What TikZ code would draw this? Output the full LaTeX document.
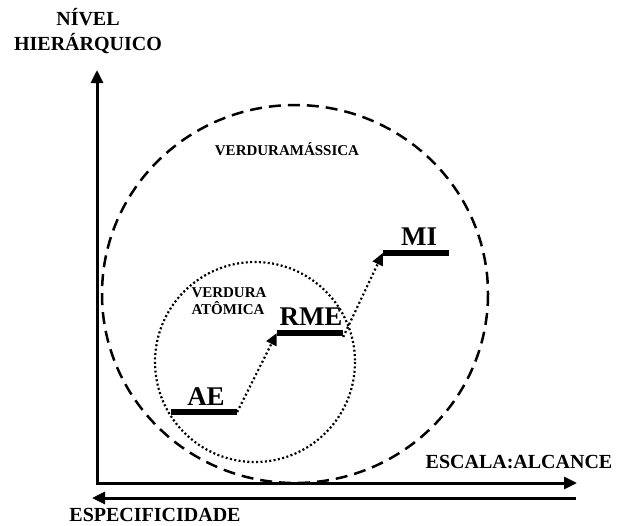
\documentclass[tikz,border=0pt]{standalone}
\usepackage{fontspec}
\setmainfont{Liberation Serif}
\usetikzlibrary{arrows.meta}
\begin{document}
\begin{tikzpicture}[x=1pt,y=-1pt,
  lbl/.style={font=\bfseries\fontsize{20}{25}\selectfont, inner sep=0pt, align=center},
  small/.style={font=\bfseries\fontsize{15}{17}\selectfont, inner sep=0pt},
  big/.style={font=\bfseries\fontsize{27}{28}\selectfont, inner sep=0pt},
  bar/.style={fill=black, draw=none, minimum width=66pt, minimum height=6pt, inner sep=0pt, rectangle},
  axis/.style={line width=3pt, -{Triangle[length=13pt,width=12pt]}},
  dotarrow/.style={line width=2.2pt, dash pattern=on 2pt off 2.6pt, -{Triangle[length=12pt,width=11pt]}},
  dashcirc/.style={line width=2.5pt, dash pattern=on 12pt off 7pt},
  dotcirc/.style={line width=2.2pt, dash pattern=on 2pt off 2.4pt}
]
\useasboundingbox (0,0) rectangle (617,525);
% circles
\draw[dashcirc] (295,294) ellipse [x radius=193, y radius=189];
\draw[dotcirc] (255,362) circle [radius=100];
% axes
\coordinate (o) at (97,483);
\coordinate (ytip) at (97,70);
\coordinate (xtip) at (577,483);
\coordinate (sR) at (576,498);
\coordinate (sL) at (92,498);
\draw[axis, line cap=butt] (o) -- (ytip);
\draw[axis] ([xshift=-1.5pt]o) -- (xtip);
\draw[axis] (sR) -- (sL);
% bars
\node[bar] (ae) at (204,412) {};
\node[bar] (rme) at (310,333) {};
\node[bar] (mi) at (416,253) {};
\node[big] (aet) at (206,397) {AE};
\node[big] (rmet) at (311,317) {RME};
\node[big] (mit) at (419,237) {MI};
% arrows
\draw[dotarrow] (ae.east) -- (rme.west);
\draw[dotarrow] ([yshift=-4pt]rme.east) -- (mi.west);
% labels
\node[lbl] (nivel) at (88,31) {NÍVEL\\HIERÁRQUICO};
\node[small] (vm) at (287,149) {VERDURAMÁSSICA};
\node[small, align=left] (va) at (229,301) {VERDURA\\ATÔMICA};
\node[lbl] (esc) at (519,462) {ESCALA:ALCANCE};
\node[lbl] (esp) at (155,515) {ESPECIFICIDADE};
\end{tikzpicture}
\end{document}
